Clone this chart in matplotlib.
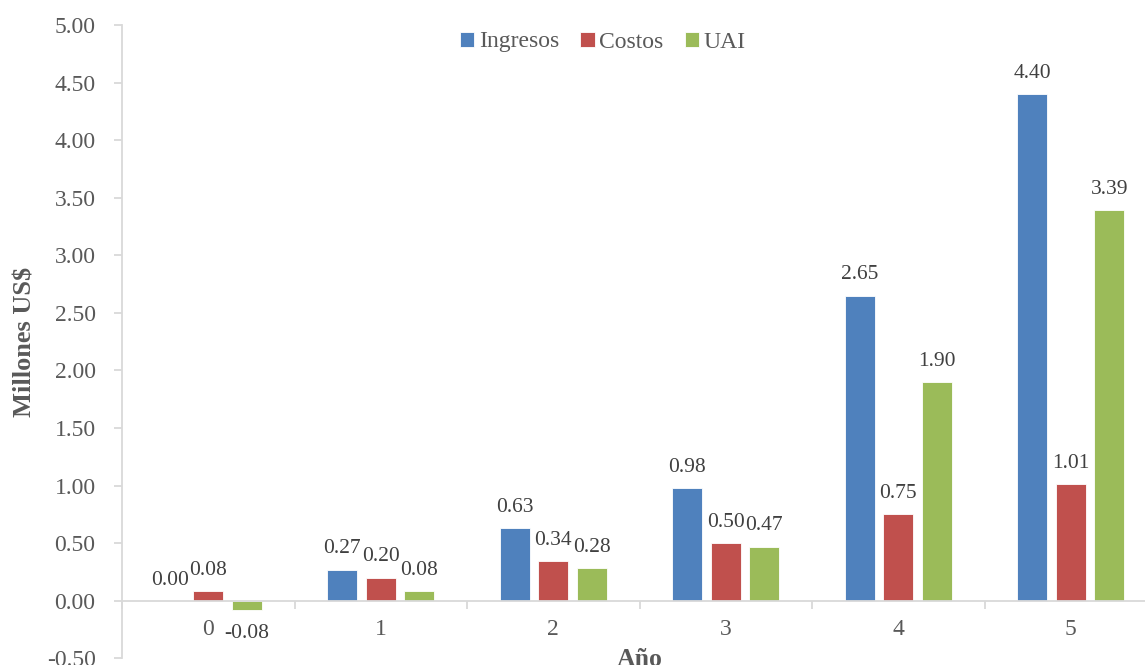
import numpy as np
import matplotlib
matplotlib.use('Agg')
import matplotlib.pyplot as plt
from matplotlib.ticker import FixedLocator

# Data
years = ['0', '1', '2', '3', '4', '5']
ingresos = [0.00, 0.27, 0.63, 0.98, 2.65, 4.40]
costos = [0.08, 0.20, 0.34, 0.50, 0.75, 1.01]
uai = [-0.08, 0.08, 0.28, 0.47, 1.90, 3.39]
series_names = ['Ingresos', 'Costos', 'UAI']
y_ticks = np.arange(-0.5, 5.01, 0.5)

colors = ['#4f81bd', '#c0504d', '#9bbb59']
text_color = '#595959'
label_color = '#404040'
grid_color = '#d9d9d9'

plt.rcParams['font.family'] = ['Liberation Serif', 'DejaVu Serif']
fs = 17
fs_lab = 15.5

fig = plt.figure(figsize=(11.45, 6.65), dpi=100)
ax = fig.add_axes([122 / 1145, 1 - 658.2 / 665, 1035 / 1145, 633.2 / 665])

x = np.arange(len(years))
width = 0.174
step = 0.223
for i, (name, vals) in enumerate(zip(series_names, [ingresos, costos, uai])):
    pos = x + (i - 1) * step
    ax.bar(pos, vals, width, color=colors[i], label=name,
           edgecolor='white', linewidth=0.6)
    for px, v in zip(pos, vals):
        if v >= 0:
            ax.annotate(f'{v:.2f}', (px, v), xytext=(0, 8), textcoords='offset points',
                        ha='center', va='bottom', fontsize=fs_lab, color=label_color)
        else:
            ax.annotate(f'{v:.2f}', (px, v), xytext=(0, -10), textcoords='offset points',
                        ha='center', va='top', fontsize=fs_lab, color=label_color)

ax.set_xlim(-0.5, len(years) - 0.5)
ax.set_ylim(-0.5, 5.0)
ax.set_yticks(y_ticks)
ax.set_yticklabels([f'{t:.2f}' for t in y_ticks])

ax.spines['bottom'].set_position(('data', 0))
for s in ['top', 'right']:
    ax.spines[s].set_visible(False)
for s in ['left', 'bottom']:
    ax.spines[s].set_color(grid_color)
    ax.spines[s].set_linewidth(1.3)

ax.set_xticks(x)
ax.set_xticklabels(years)
ax.xaxis.set_minor_locator(FixedLocator(np.arange(-0.5, len(years), 1.0)))
ax.tick_params(axis='x', which='major', length=0, pad=13, labelsize=fs, labelcolor=text_color)
ax.tick_params(axis='x', which='minor', length=6, width=1.3, color=grid_color, direction='out')
ax.tick_params(axis='y', length=6, width=1.3, color=grid_color, pad=13,
               labelsize=fs, labelcolor=text_color)

fig.text(25 / 1145, 1 - 342 / 665, 'Millones US$', rotation=90, ha='center', va='center',
         fontsize=19, fontweight='bold', color=text_color)
fig.text(640 / 1145, 1 - 666 / 665, 'Año', ha='center', va='baseline',
         fontsize=18.5, fontweight='bold', color=text_color)

fig.legend(loc='center', bbox_to_anchor=(603 / 1145, 1 - 42 / 665), ncol=3, frameon=False,
           fontsize=fs, handlelength=0.6, handleheight=0.6, handletextpad=0.2,
           columnspacing=0.9, labelcolor=text_color)

fig.savefig('out.png', dpi=100)
